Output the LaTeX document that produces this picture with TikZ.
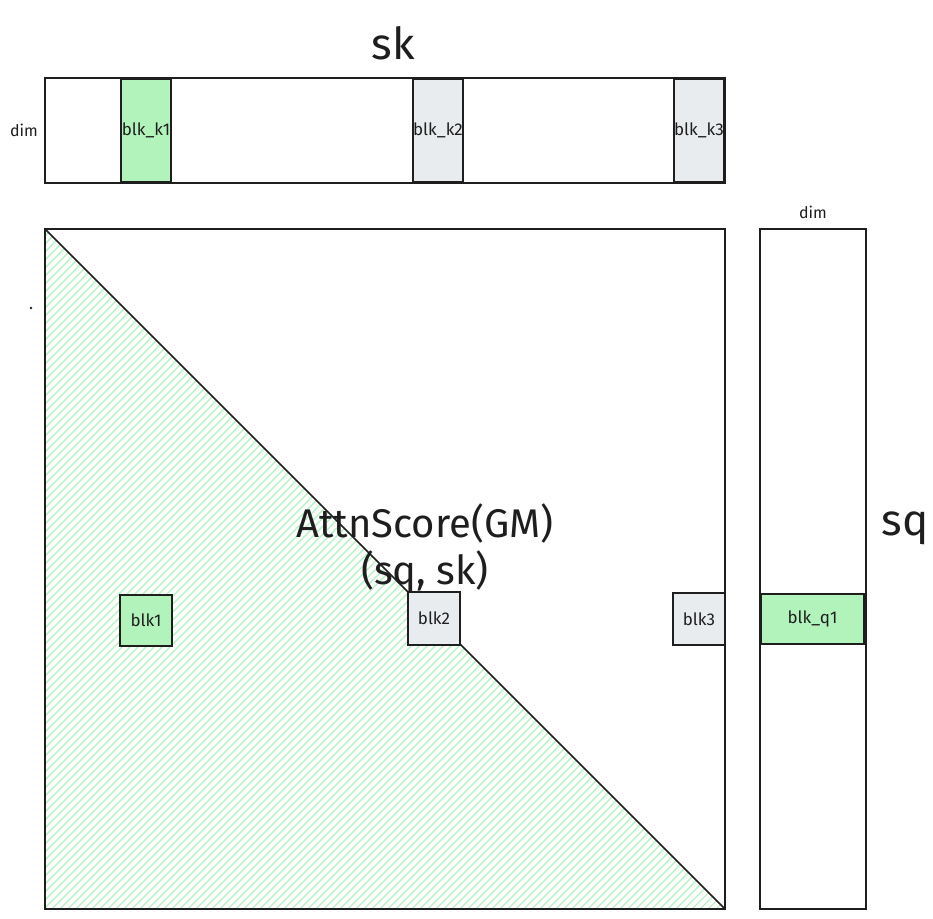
\documentclass[tikz,border=0pt]{standalone}
\usepackage{fontspec}
\setmainfont{Fira Sans}
\definecolor{lgreen}{HTML}{B2F2BB}
\definecolor{lgray}{HTML}{E9ECEF}
\definecolor{ink}{HTML}{1E1E1E}
\tikzset{
  box/.style={draw=ink, line width=1.2pt, inner sep=0pt, outer sep=0pt},
  gbox/.style={box, fill=lgreen},
  ybox/.style={box, fill=lgray},
  small/.style={font=\fontsize{16}{18}\selectfont, text=ink},
  lbl/.style={font=\fontsize{17}{19}\selectfont, text=ink},
  big/.style={font=\fontsize{40}{47}\selectfont, text=ink, align=center},
  huge/.style={font=\fontsize{44}{50}\selectfont, text=ink},
  hatch/.style={lgreen, line width=1.1pt}
}
\begin{document}
\begin{tikzpicture}[x=1pt,y=-1pt]
\fill[white] (0,0) rectangle (933,918);
\useasboundingbox (0,0) rectangle (933,918);

% key bar
\node[box, minimum width=680pt, minimum height=105pt] (kbar) at (385,130.5) {};
\node[gbox, minimum width=50pt, minimum height=103pt] (bk1) at (146,130.5) {};
\node[ybox, minimum width=50pt, minimum height=103pt] (bk2) at (438,130.5) {};
\node[ybox, minimum width=50pt, minimum height=103pt] (bk3) at (699,130.5) {};
\node[lbl] (tk1) at (bk1.center) {blk\_k1};
\node[lbl] (tk2) at (bk2.center) {blk\_k2};
\node[lbl] (tk3) at (bk3.center) {blk\_k3};
\node[small] (dimk) at (24,130) {dim};
\node[huge] (sk) at (393,43) {sk};

% main score matrix
\node[minimum width=680pt, minimum height=680pt, inner sep=0pt, outer sep=0pt] (main) at (385,569) {};
\begin{scope}
  \clip (main.north west) -- (main.south west) -- (main.south east) -- cycle;
  \foreach \i in {0,...,180} {
    \draw[hatch] (-655+8*\i, 912) -- ++(700,-700);
  }
\end{scope}
\draw[ink, line width=1.6pt] (main.north west) rectangle (main.south east);
\draw[ink, line width=2.8pt] (main.north west) -- (main.south west) -- (main.south east);
\draw[ink, line width=1.6pt] (main.north west) -- (main.south east);

\node[big] (title) at (425,548) {AttnScore(GM)\\(sq, sk)};

\node[gbox, minimum width=52pt, minimum height=51pt, lbl] (b1) at (146,620.5) {blk1};
\node[ybox, minimum width=52pt, minimum height=53pt, lbl] (b2) at (434,618.5) {blk2};
\node[ybox, minimum width=52pt, minimum height=52pt, lbl] (b3) at (699,619) {blk3};

\fill[ink] (31,308) circle (1.3pt);

% query column
\node[box, minimum width=106pt, minimum height=680pt] (qcol) at (813,569) {};
\node[gbox, minimum width=103pt, minimum height=50pt, lbl] (bq1) at (812.5,619) {blk\_q1};
\node[small] (dimq) at (813,212) {dim};
\node[huge] (sq) at (905,528) {sq};
\end{tikzpicture}
\end{document}
